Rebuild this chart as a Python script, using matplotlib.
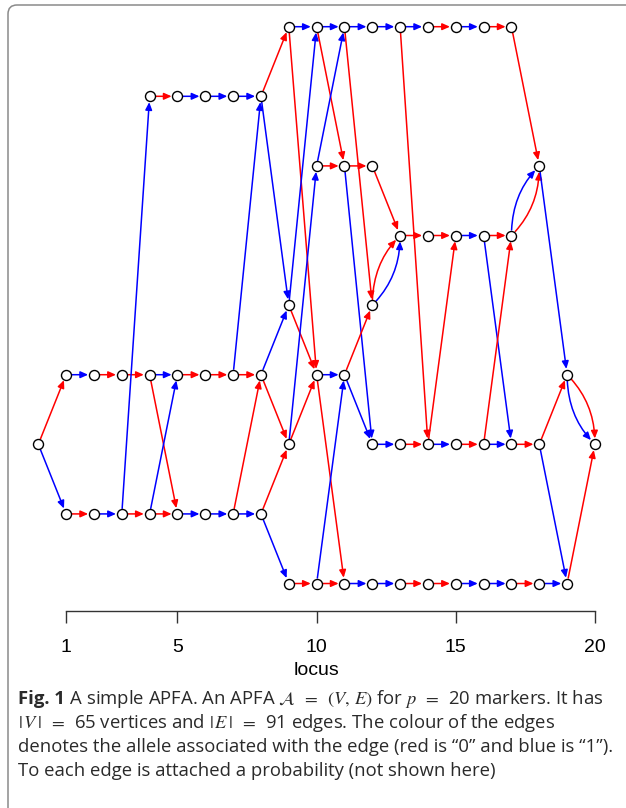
import matplotlib
matplotlib.use("Agg")
import matplotlib.pyplot as plt
from matplotlib.patches import FancyArrowPatch, FancyBboxPatch
from matplotlib.transforms import IdentityTransform

plt.rcParams['mathtext.fontset'] = 'stix'

# ---------------------------------------------
# dados: arestas (locus de origem, nivel origem, nivel destino, alelo)
# niveis contados de cima (1) para baixo (9)
# ---------------------------------------------
edges = [
    (0, 7, 6, 0), (0, 7, 8, 1),
    (1, 6, 6, 1), (1, 8, 8, 0),
    (2, 6, 6, 0), (2, 8, 8, 1),
    (3, 6, 6, 0), (3, 8, 8, 0), (3, 8, 2, 1),
    (4, 2, 2, 0), (4, 6, 6, 1), (4, 6, 8, 0), (4, 8, 8, 0), (4, 8, 6, 1),
    (5, 2, 2, 1), (5, 6, 6, 0), (5, 8, 8, 1),
    (6, 2, 2, 1), (6, 6, 6, 0), (6, 8, 8, 1),
    (7, 2, 2, 1), (7, 6, 6, 0), (7, 6, 2, 1), (7, 8, 8, 1), (7, 8, 6, 0),
    (8, 2, 1, 0), (8, 2, 5, 1), (8, 6, 5, 1), (8, 6, 7, 0), (8, 8, 7, 0), (8, 8, 9, 1),
    (9, 1, 1, 1), (9, 1, 6, 0), (9, 5, 1, 1), (9, 5, 6, 0), (9, 7, 3, 1), (9, 7, 6, 0),
    (9, 9, 9, 0),
    (10, 1, 1, 1), (10, 1, 3, 0), (10, 3, 3, 0), (10, 3, 1, 1), (10, 6, 6, 1),
    (10, 6, 9, 0), (10, 9, 9, 0), (10, 9, 6, 1),
    (11, 1, 1, 1), (11, 1, 5, 0), (11, 3, 3, 0), (11, 3, 7, 1), (11, 6, 5, 0),
    (11, 6, 7, 1), (11, 9, 9, 1),
    (12, 1, 1, 1), (12, 3, 4, 0), (12, 5, 4, 0), (12, 5, 4, 1), (12, 7, 7, 1), (12, 9, 9, 1),
    (13, 1, 1, 1), (13, 1, 7, 0), (13, 4, 4, 0), (13, 7, 7, 0), (13, 9, 9, 0),
    (14, 1, 1, 0), (14, 4, 4, 0), (14, 7, 7, 1), (14, 7, 4, 0), (14, 9, 9, 0),
    (15, 1, 1, 1), (15, 4, 4, 1), (15, 7, 7, 0), (15, 9, 9, 1),
    (16, 1, 1, 0), (16, 4, 4, 0), (16, 4, 7, 1), (16, 7, 7, 1), (16, 7, 4, 0), (16, 9, 9, 1),
    (17, 1, 3, 0), (17, 4, 3, 1), (17, 4, 3, 0), (17, 7, 7, 0), (17, 9, 9, 0),
    (18, 3, 6, 1), (18, 7, 6, 0), (18, 7, 9, 1), (18, 9, 9, 1),
    (19, 6, 7, 1), (19, 6, 7, 0), (19, 9, 7, 0),
]
allele_colors = ['#ff0000', '#0000ff']   # "0" = vermelho, "1" = azul
locus_ticks = [1, 5, 10, 15, 20]

caption_bold = "Fig. 1"
caption_lines = [
    r" A simple APFA. An APFA $\mathcal{A}\;\;=\;\;(V,\, E)$ for $p\;\;=\;\;$20 markers. It has",
    r"$|\,V\,|\;\;=\;\;$65 vertices and $|\,E\,|\;\;=\;\;$91 edges. The colour of the edges",
    "denotes the allele associated with the edge (red is \u201c0\u201d and blue is \u201c1\u201d).",
    "To each edge is attached a probability (not shown here)",
]

# ---------------------------------------------
fig = plt.figure(figsize=(6.26, 8.08), dpi=100)
ax = fig.add_axes([0.03895, 0.2438, 0.9337, 0.749])
ax.set_xlim(-0.5, 20.5)
ax.set_ylim(9.395, 0.7)

# vertices = todas as pontas das arestas
nodes = sorted({(e[0], e[1]) for e in edges} | {(e[0] + 1, e[2]) for e in edges})

# arestas paralelas -> curvas
groups = {}
for e in edges:
    groups.setdefault((e[0], e[1], e[2]), []).append(e)

style = '-|>,head_length=0.45,head_width=0.2'
for key, grp in groups.items():
    loc, a, b = key
    for k, e in enumerate(grp):
        if len(grp) == 1:
            cs = 'arc3,rad=0'
        else:
            diag = 45 if b < a else -45
            if k == 0:
                cs = f'angle3,angleA=90,angleB={diag}'
            else:
                cs = f'angle3,angleA={diag},angleB=90'
        arr = FancyArrowPatch((loc, a), (loc + 1, b), arrowstyle=style,
                              connectionstyle=cs, mutation_scale=10,
                              shrinkA=4, shrinkB=4.2, color=allele_colors[e[3]],
                              lw=1.1, zorder=2, clip_on=False)
        ax.add_patch(arr)

ax.scatter([n[0] for n in nodes], [n[1] for n in nodes], s=52, facecolor='white',
           edgecolor='black', linewidth=1.0, zorder=3, clip_on=False)

# eixo do locus
for s in ['top', 'right', 'left']:
    ax.spines[s].set_visible(False)
ax.spines['bottom'].set_bounds(1, 20)
ax.spines['bottom'].set_color('#333333')
ax.spines['bottom'].set_linewidth(1.0)
ax.set_xticks(locus_ticks)
ax.set_yticks([])
ax.tick_params(axis='x', direction='out', length=8.5, width=1.0, color='#333333',
               pad=12, labelsize=14)
for t in ax.get_xticklabels():
    t.set_family('Liberation Sans')
ax.set_xlabel('locus', fontsize=14, family='Liberation Sans', labelpad=4)
ax.patch.set_visible(False)

# moldura cinza (canto arredondado)
frame = FancyBboxPatch((8, -12), 900, 815, boxstyle='round,pad=0,rounding_size=9',
                       transform=IdentityTransform(), facecolor='none',
                       edgecolor='#8a8a8a', lw=1.1)
fig.add_artist(frame)

# legenda da figura
cap_font = dict(family='Open Sans', size=13.3, color='#2a2a2a')
x0 = 18 / 626
baselines = [704, 728, 752, 776]
tb = fig.text(x0, 1 - baselines[0] / 808, caption_bold, va='baseline', ha='left',
              weight='bold', **cap_font)
fig.canvas.draw()
bb = tb.get_window_extent(fig.canvas.get_renderer())
fig.text(bb.x1 / 626, 1 - baselines[0] / 808, caption_lines[0], va='baseline',
         ha='left', **cap_font)
for line, yb in zip(caption_lines[1:], baselines[1:]):
    fig.text(x0, 1 - yb / 808, line, va='baseline', ha='left', **cap_font)

fig.savefig('out.png', dpi=100)
